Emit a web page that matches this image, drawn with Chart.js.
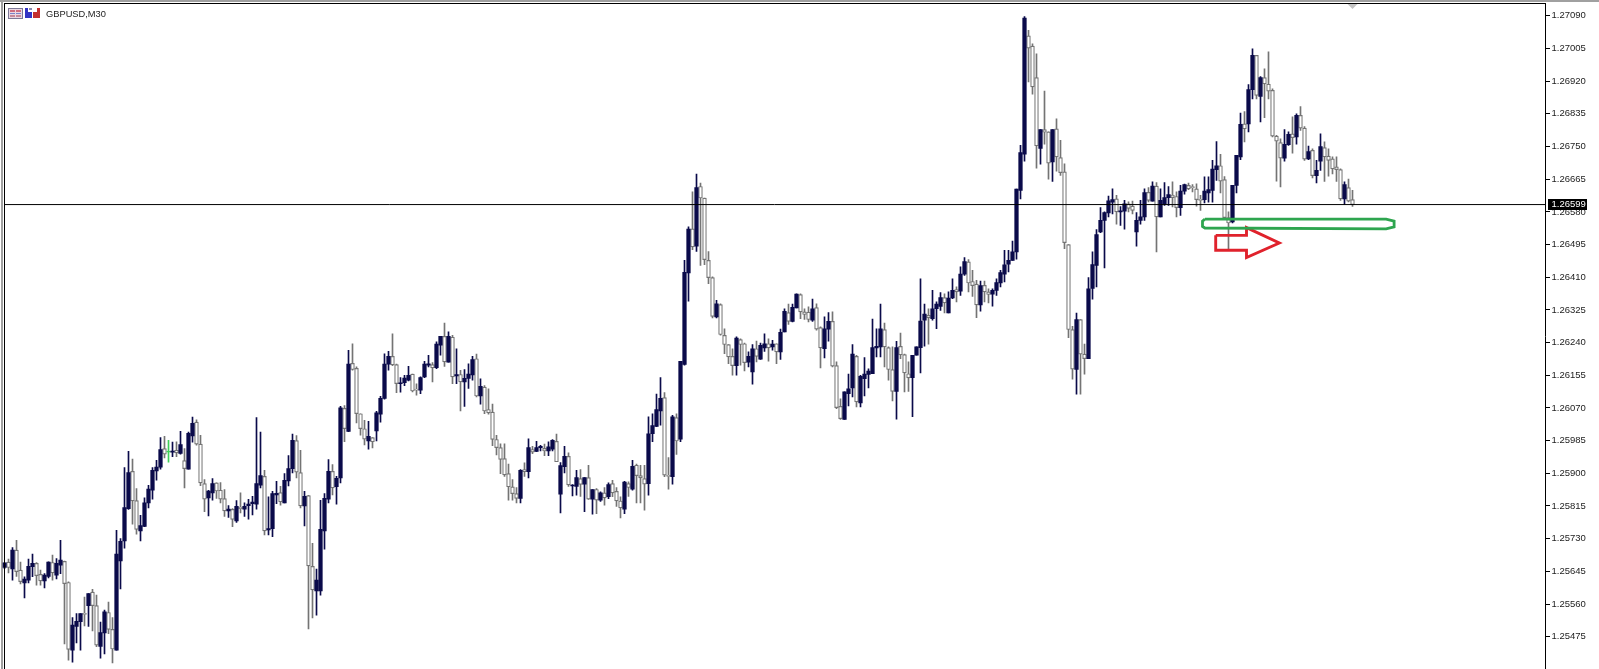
<!DOCTYPE html>
<html><head><meta charset="utf-8"><title>GBPUSD,M30</title>
<script src="https://cdn.jsdelivr.net/npm/chart.js@4"></script>
<style>html,body{margin:0;padding:0;background:#fff;overflow:hidden}canvas{display:block}</style>
</head><body><canvas id="c" width="1599" height="669"></canvas>
<script>
const symbolTitle = "GBPUSD,M30";
const tickValues = [1.27090,1.27005,1.26920,1.26835,1.26750,1.26665,1.26580,1.26495,1.26410,1.26325,1.26240,1.26155,1.26070,1.25985,1.25900,1.25815,1.25730,1.25645,1.25560,1.25475];
const bidPrice = 1.26599;
const dojiGreenIndex = 41;
const opens = [1.25655,1.25669,1.25651,1.25700,1.25648,1.25615,1.25622,1.25657,1.25666,1.25637,
1.25620,1.25632,1.25668,1.25635,1.25661,1.25671,1.25616,1.25440,1.25502,1.25514,
1.25535,1.25556,1.25591,1.25556,1.25450,1.25485,1.25538,1.25494,1.25440,1.25672,
1.25724,1.25808,1.25905,1.25829,1.25750,1.25762,1.25823,1.25856,1.25906,1.25916,
1.25964,1.25955,1.25955,1.25960,1.25952,1.25933,1.25911,1.25997,1.26033,1.25976,
1.25873,1.25836,1.25849,1.25875,1.25856,1.25834,1.25802,1.25806,1.25776,1.25812,
1.25807,1.25816,1.25821,1.25820,1.25869,1.25892,1.25753,1.25756,1.25844,1.25850,
1.25823,1.25880,1.25912,1.25985,1.25902,1.25815,1.25842,1.25658,1.25594,1.25594,
1.25750,1.25833,1.25905,1.25865,1.25888,1.26069,1.26009,1.26186,1.26173,1.26055,
1.26016,1.25984,1.25993,1.26010,1.26054,1.26095,1.26184,1.26204,1.26183,1.26133,
1.26136,1.26142,1.26158,1.26119,1.26116,1.26151,1.26181,1.26183,1.26175,1.26233,
1.26256,1.26189,1.26254,1.26153,1.26157,1.26138,1.26147,1.26156,1.26198,1.26101,
1.26124,1.26066,1.26059,1.25988,1.25967,1.25938,1.25899,1.25865,1.25847,1.25835,
1.25910,1.25904,1.25962,1.25957,1.25967,1.25965,1.25958,1.25963,1.25983,1.25846,
1.25917,1.25944,1.25867,1.25866,1.25886,1.25872,1.25889,1.25833,1.25858,1.25830,
1.25849,1.25839,1.25873,1.25853,1.25828,1.25807,1.25873,1.25859,1.25921,1.25894,
1.25886,1.25873,1.26003,1.26022,1.26062,1.26097,1.25895,1.25891,1.26045,1.25989,
1.26183,1.26421,1.26536,1.26491,1.26646,1.26616,1.26454,1.26409,1.26307,1.26339,
1.26259,1.26235,1.26204,1.26180,1.26248,1.26237,1.26189,1.26164,1.26224,1.26197,
1.26226,1.26237,1.26229,1.26237,1.26216,1.26268,1.26318,1.26295,1.26330,1.26365,
1.26320,1.26319,1.26298,1.26331,1.26279,1.26224,1.26275,1.26295,1.26180,1.26074,
1.26040,1.26107,1.26122,1.26204,1.26083,1.26146,1.26157,1.26159,1.26226,1.26229,
1.26274,1.26227,1.26170,1.26113,1.26230,1.26209,1.26159,1.26149,1.26207,1.26227,
1.26298,1.26311,1.26302,1.26328,1.26334,1.26357,1.26317,1.26356,1.26378,1.26374,
1.26418,1.26450,1.26399,1.26392,1.26338,1.26389,1.26372,1.26366,1.26376,1.26395,
1.26418,1.26444,1.26454,1.26476,1.26636,1.26730,1.27038,1.27011,1.26929,1.26745,
1.26794,1.26788,1.26710,1.26796,1.26721,1.26684,1.26495,1.26274,1.26170,1.26300,
1.26210,1.26198,1.26381,1.26441,1.26528,1.26558,1.26577,1.26605,1.26614,1.26580,
1.26582,1.26601,1.26595,1.26528,1.26558,1.26567,1.26631,1.26608,1.26647,1.26567,
1.26601,1.26617,1.26624,1.26620,1.26591,1.26634,1.26649,1.26645,1.26640,1.26612,
1.26612,1.26629,1.26636,1.26690,1.26700,1.26664,1.26565,1.26554,1.26649,1.26723,
1.26809,1.26809,1.26898,1.26987,1.26880,1.26929,1.26912,1.26896,1.26777,1.26760,
1.26720,1.26755,1.26783,1.26775,1.26831,1.26798,1.26718,1.26740,1.26674,1.26712,
1.26747,1.26725,1.26718,1.26697,1.26690,1.26614,1.26643,1.26612];
const highs = [1.25667,1.25677,1.25707,1.25726,1.25669,1.25631,1.25677,1.25690,1.25668,1.25648,
1.25639,1.25670,1.25687,1.25678,1.25726,1.25672,1.25618,1.25525,1.25535,1.25535,
1.25578,1.25587,1.25598,1.25583,1.25513,1.25544,1.25565,1.25525,1.25752,1.25730,
1.25915,1.25957,1.25937,1.25860,1.25791,1.25836,1.25869,1.25915,1.25934,1.25993,
1.25996,1.25986,1.25981,1.25982,1.26009,1.25964,1.26007,1.26046,1.26039,1.25999,
1.25884,1.25856,1.25886,1.25875,1.25876,1.25858,1.25816,1.25808,1.25829,1.25849,
1.25823,1.25832,1.25840,1.26045,1.26007,1.25908,1.25839,1.25853,1.25879,1.25866,
1.25899,1.25946,1.26002,1.25998,1.25960,1.25853,1.25843,1.25718,1.25651,1.25830,
1.25847,1.25936,1.25923,1.25892,1.26074,1.26076,1.26220,1.26237,1.26177,1.26055,
1.26038,1.26035,1.25993,1.26061,1.26100,1.26211,1.26217,1.26263,1.26184,1.26149,
1.26155,1.26178,1.26158,1.26133,1.26151,1.26191,1.26207,1.26188,1.26242,1.26256,
1.26291,1.26268,1.26259,1.26224,1.26168,1.26170,1.26185,1.26204,1.26210,1.26146,
1.26128,1.26120,1.26080,1.25999,1.25977,1.25977,1.25924,1.25884,1.25863,1.25910,
1.25927,1.25990,1.25970,1.25983,1.25973,1.25976,1.25982,1.25988,1.26002,1.25928,
1.25970,1.25953,1.25871,1.25908,1.25910,1.25889,1.25921,1.25858,1.25860,1.25852,
1.25863,1.25875,1.25882,1.25863,1.25839,1.25879,1.25878,1.25934,1.25924,1.25921,
1.25921,1.26047,1.26055,1.26106,1.26149,1.26110,1.25941,1.26051,1.26055,1.26191,
1.26454,1.26541,1.26632,1.26678,1.26655,1.26616,1.26477,1.26411,1.26350,1.26341,
1.26276,1.26235,1.26224,1.26255,1.26250,1.26239,1.26216,1.26235,1.26244,1.26239,
1.26263,1.26250,1.26246,1.26237,1.26275,1.26328,1.26340,1.26340,1.26367,1.26367,
1.26328,1.26333,1.26353,1.26341,1.26281,1.26307,1.26318,1.26320,1.26190,1.26094,
1.26112,1.26158,1.26235,1.26207,1.26155,1.26201,1.26172,1.26301,1.26276,1.26340,
1.26291,1.26229,1.26229,1.26243,1.26265,1.26210,1.26190,1.26207,1.26229,1.26406,
1.26340,1.26328,1.26376,1.26346,1.26370,1.26367,1.26372,1.26406,1.26385,1.26437,
1.26461,1.26456,1.26428,1.26402,1.26400,1.26400,1.26380,1.26380,1.26406,1.26428,
1.26480,1.26480,1.26504,1.26639,1.26753,1.27088,1.27052,1.27017,1.26991,1.26794,
1.26894,1.26788,1.26794,1.26822,1.26766,1.26705,1.26495,1.26282,1.26317,1.26300,
1.26236,1.26409,1.26476,1.26534,1.26591,1.26580,1.26621,1.26640,1.26623,1.26594,
1.26610,1.26606,1.26608,1.26578,1.26610,1.26640,1.26643,1.26658,1.26656,1.26640,
1.26656,1.26646,1.26658,1.26632,1.26649,1.26652,1.26655,1.26651,1.26653,1.26623,
1.26671,1.26671,1.26714,1.26763,1.26730,1.26672,1.26580,1.26649,1.26727,1.26837,
1.26841,1.26911,1.27004,1.26987,1.26932,1.26952,1.26996,1.26900,1.26779,1.26770,
1.26794,1.26788,1.26827,1.26835,1.26854,1.26802,1.26751,1.26744,1.26714,1.26783,
1.26762,1.26744,1.26723,1.26723,1.26692,1.26658,1.26665,1.26636];
const lows = [1.25652,1.25641,1.25622,1.25632,1.25612,1.25576,1.25615,1.25631,1.25609,1.25609,
1.25602,1.25628,1.25622,1.25625,1.25639,1.25456,1.25414,1.25409,1.25459,1.25440,
1.25503,1.25502,1.25490,1.25449,1.25419,1.25430,1.25483,1.25407,1.25440,1.25599,
1.25705,1.25806,1.25768,1.25742,1.25724,1.25761,1.25810,1.25833,1.25882,1.25911,
1.25940,1.25929,1.25943,1.25943,1.25950,1.25862,1.25911,1.25981,1.25973,1.25868,
1.25800,1.25789,1.25830,1.25835,1.25823,1.25788,1.25785,1.25761,1.25772,1.25797,
1.25788,1.25781,1.25792,1.25807,1.25862,1.25740,1.25740,1.25735,1.25821,1.25817,
1.25823,1.25867,1.25901,1.25888,1.25810,1.25763,1.25495,1.25524,1.25531,1.25583,
1.25703,1.25823,1.25844,1.25820,1.25875,1.25982,1.26008,1.26168,1.26031,1.25999,
1.25974,1.25963,1.25966,1.25984,1.26033,1.26093,1.26168,1.26180,1.26110,1.26111,
1.26128,1.26140,1.26112,1.26103,1.26107,1.26149,1.26177,1.26138,1.26172,1.26207,
1.26178,1.26189,1.26133,1.26133,1.26062,1.26074,1.26121,1.26142,1.26099,1.26080,
1.26055,1.26054,1.25972,1.25948,1.25899,1.25892,1.25830,1.25830,1.25823,1.25823,
1.25892,1.25888,1.25951,1.25956,1.25958,1.25946,1.25946,1.25958,1.25930,1.25797,
1.25901,1.25866,1.25841,1.25843,1.25840,1.25800,1.25832,1.25794,1.25795,1.25827,
1.25817,1.25834,1.25839,1.25814,1.25784,1.25795,1.25840,1.25856,1.25823,1.25823,
1.25804,1.25843,1.25982,1.26021,1.26025,1.25891,1.25859,1.25872,1.25949,1.25982,
1.26181,1.26348,1.26482,1.26477,1.26441,1.26443,1.26393,1.26304,1.26304,1.26259,
1.26211,1.26185,1.26155,1.26155,1.26181,1.26166,1.26177,1.26132,1.26190,1.26196,
1.26217,1.26192,1.26220,1.26185,1.26196,1.26268,1.26287,1.26294,1.26330,1.26302,
1.26300,1.26294,1.26295,1.26272,1.26174,1.26200,1.26244,1.26177,1.26068,1.26040,
1.26040,1.26075,1.26099,1.26073,1.26073,1.26101,1.26122,1.26159,1.26203,1.26203,
1.26177,1.26142,1.26088,1.26041,1.26198,1.26112,1.26113,1.26047,1.26207,1.26161,
1.26231,1.26236,1.26298,1.26276,1.26324,1.26317,1.26317,1.26354,1.26346,1.26363,
1.26415,1.26372,1.26360,1.26305,1.26322,1.26346,1.26343,1.26335,1.26363,1.26385,
1.26398,1.26424,1.26454,1.26457,1.26614,1.26712,1.26918,1.26886,1.26694,1.26704,
1.26756,1.26665,1.26659,1.26686,1.26675,1.26484,1.26253,1.26145,1.26106,1.26106,
1.26158,1.26198,1.26353,1.26385,1.26526,1.26434,1.26567,1.26575,1.26548,1.26545,
1.26535,1.26580,1.26575,1.26491,1.26548,1.26558,1.26606,1.26608,1.26476,1.26567,
1.26597,1.26597,1.26593,1.26567,1.26571,1.26626,1.26638,1.26632,1.26595,1.26584,
1.26603,1.26605,1.26605,1.26662,1.26629,1.26562,1.26480,1.26551,1.26629,1.26716,
1.26762,1.26788,1.26874,1.26874,1.26814,1.26825,1.26874,1.26775,1.26660,1.26645,
1.26712,1.26753,1.26733,1.26756,1.26792,1.26714,1.26716,1.26668,1.26655,1.26688,
1.26659,1.26673,1.26679,1.26659,1.26610,1.26599,1.26606,1.26594];
const closes = [1.25667,1.25655,1.25700,1.25644,1.25618,1.25625,1.25658,1.25666,1.25634,1.25620,
1.25635,1.25669,1.25641,1.25666,1.25674,1.25613,1.25442,1.25505,1.25515,1.25535,
1.25533,1.25587,1.25556,1.25453,1.25486,1.25540,1.25494,1.25443,1.25690,1.25723,
1.25811,1.25902,1.25828,1.25754,1.25764,1.25823,1.25859,1.25908,1.25916,1.25962,
1.25950,1.25955,1.25957,1.25953,1.25975,1.25912,1.26004,1.26030,1.25976,1.25875,
1.25833,1.25854,1.25873,1.25854,1.25833,1.25802,1.25807,1.25780,1.25814,1.25808,
1.25814,1.25820,1.25825,1.25873,1.25894,1.25750,1.25756,1.25847,1.25848,1.25826,
1.25882,1.25912,1.25986,1.25903,1.25815,1.25840,1.25659,1.25597,1.25622,1.25754,
1.25835,1.25905,1.25862,1.25887,1.26070,1.26016,1.26184,1.26170,1.26055,1.26016,
1.25989,1.25996,1.25982,1.26057,1.26095,1.26184,1.26204,1.26182,1.26133,1.26135,
1.26148,1.26155,1.26114,1.26116,1.26149,1.26184,1.26185,1.26174,1.26236,1.26256,
1.26190,1.26256,1.26151,1.26157,1.26138,1.26147,1.26158,1.26196,1.26101,1.26126,
1.26062,1.26057,1.25988,1.25967,1.25936,1.25896,1.25865,1.25847,1.25835,1.25908,
1.25904,1.25967,1.25955,1.25967,1.25970,1.25958,1.25969,1.25986,1.25930,1.25920,
1.25944,1.25870,1.25869,1.25889,1.25871,1.25889,1.25833,1.25858,1.25830,1.25849,
1.25836,1.25871,1.25849,1.25828,1.25810,1.25877,1.25863,1.25918,1.25894,1.25888,
1.25872,1.26003,1.26024,1.26066,1.26095,1.25895,1.25892,1.26047,1.25984,1.26191,
1.26423,1.26535,1.26489,1.26643,1.26616,1.26456,1.26409,1.26308,1.26341,1.26261,
1.26235,1.26203,1.26180,1.26252,1.26235,1.26188,1.26204,1.26224,1.26204,1.26233,
1.26237,1.26226,1.26236,1.26216,1.26267,1.26321,1.26295,1.26332,1.26366,1.26320,
1.26313,1.26300,1.26328,1.26275,1.26226,1.26276,1.26295,1.26179,1.26071,1.26042,
1.26112,1.26120,1.26210,1.26086,1.26152,1.26158,1.26166,1.26227,1.26230,1.26276,
1.26229,1.26170,1.26113,1.26227,1.26208,1.26161,1.26148,1.26207,1.26229,1.26296,
1.26314,1.26304,1.26328,1.26340,1.26357,1.26343,1.26356,1.26376,1.26372,1.26418,
1.26451,1.26395,1.26388,1.26338,1.26388,1.26372,1.26365,1.26376,1.26396,1.26422,
1.26442,1.26454,1.26476,1.26639,1.26734,1.27084,1.27006,1.26905,1.26752,1.26794,
1.26787,1.26707,1.26794,1.26723,1.26682,1.26500,1.26274,1.26171,1.26300,1.26210,
1.26198,1.26380,1.26443,1.26521,1.26558,1.26578,1.26609,1.26612,1.26580,1.26582,
1.26601,1.26589,1.26584,1.26558,1.26567,1.26630,1.26610,1.26647,1.26567,1.26610,
1.26617,1.26625,1.26617,1.26591,1.26634,1.26651,1.26640,1.26643,1.26612,1.26610,
1.26634,1.26638,1.26691,1.26700,1.26660,1.26565,1.26551,1.26649,1.26727,1.26808,
1.26796,1.26898,1.26987,1.26883,1.26929,1.26913,1.26894,1.26777,1.26764,1.26720,
1.26756,1.26782,1.26773,1.26831,1.26798,1.26717,1.26737,1.26674,1.26688,1.26750,
1.26723,1.26714,1.26692,1.26690,1.26614,1.26651,1.26608,1.26599];

const green = "#2ea54f", red = "#e0222c";
// hand-drawn marks on the chart, in bar number / price
const greenBoxBars   = [300.1,345.4,347.4,347.4,345.4,300.1,299.5,299.5,300.1];
const greenBoxPrices = [1.26561,1.26561,1.26556,1.26541,1.26536,1.26538,1.26542,1.26556,1.26561];
const redArrowBars   = [302.8,310.5,310.5,318.7,310.5,310.5,302.8,302.8];
const redArrowPrices = [1.26519,1.26519,1.26539,1.26499,1.26461,1.26480,1.26480,1.26519];

const BULL = "#0a0a4a", BEAR = "#747474", DOJI = "#3fcf5a";
const AXIS_X = 1545, LEFT = 2.5, BAR_STEP = 4;
const xMin = -0.5, xMax = xMin + (AXIS_X - LEFT) / BAR_STEP;
const yTopPrice = 1.27122, yBottomPrice = 1.25391;
const barIdx = opens.map((_, i) => i);
const isDoji = i => i === dojiGreenIndex;
const bullIdx = barIdx.filter(i => closes[i] >= opens[i] && !isDoji(i));
const bearIdx = barIdx.filter(i => closes[i] < opens[i] || isDoji(i));
const candleColor = i => isDoji(i) ? DOJI : (closes[i] >= opens[i] ? BULL : BEAR);
const pts = (xs, ys) => xs.map((x, i) => ({x, y: ys[i]}));
const bodies = idx => idx.map(i => ({x:i, y:[opens[i], closes[i]]}));

const decor = {
  id: 'decor',
  beforeDraw(ch) {
    const c = ch.ctx; c.save();
    c.fillStyle = '#fff'; c.fillRect(0, 0, ch.width, ch.height);
    c.fillStyle = '#a0a0a0'; c.fillRect(0, 0, ch.width, 2); c.fillRect(1, 0, 2, ch.height);
    c.restore();
  },
  afterDraw(ch) {
    const c = ch.ctx, y = ch.scales.y; c.save();
    // frame
    c.fillStyle = '#000';
    c.fillRect(4, 3, AXIS_X - 4, 1); c.fillRect(4, 3, 1, ch.height - 3);
    // shift marker
    c.fillStyle = '#c4c4c4'; c.beginPath(); c.moveTo(1347.5, 4); c.lineTo(1357.5, 4); c.lineTo(1352.5, 9); c.closePath(); c.fill();
    // icons
    c.fillStyle = '#ead8e4'; c.fillRect(8, 8, 15, 11);
    c.strokeStyle = '#7c7896'; c.lineWidth = 1; c.strokeRect(8.5, 8.5, 14, 10);
    c.fillStyle = '#cf6e80'; c.fillRect(10, 10, 5, 2); c.fillRect(16, 10, 5, 2);
    c.fillStyle = '#7a84c8'; c.fillRect(10, 13, 5, 1); c.fillRect(16, 13, 5, 1);
    c.fillStyle = '#c88a9a'; c.fillRect(10, 15, 5, 2); c.fillRect(16, 15, 5, 2);
    c.fillStyle = '#3434c4'; c.fillRect(25, 12, 7, 6); c.fillRect(25, 8, 3, 4);
    c.fillStyle = '#8a8ab0'; c.fillRect(29, 8, 3, 2);
    c.fillStyle = '#c43030'; c.fillRect(33, 12, 7, 6); c.fillRect(37, 8, 3, 4);
    // title
    c.fillStyle = '#1c1c1c'; c.font = '9.3px "Liberation Sans"'; c.textBaseline = 'alphabetic'; c.textAlign = 'left';
    c.fillText(symbolTitle, 46, 17);
    // current price flag
    const py = Math.floor(y.getPixelForValue(bidPrice));
    c.font = '9.5px "Liberation Sans"';
    c.fillStyle = '#000'; c.fillRect(1548, py - 5, 39, 11);
    c.fillStyle = '#fff'; c.textBaseline = 'middle'; c.fillText(bidPrice.toFixed(5), 1551.5, py + 0.8);
    c.restore();
  }
};

new Chart(document.getElementById('c'), {
  data: {
    datasets: [
      {type:'line', order:0, data:[{x:-0.125,y:bidPrice},{x:xMax,y:bidPrice}], borderColor:'#000', borderWidth:1, pointRadius:0},
      {type:'line', order:0, data:pts(greenBoxBars,greenBoxPrices), borderColor:green, borderWidth:2.8, pointRadius:0, tension:0},
      {type:'line', order:0, data:pts(redArrowBars,redArrowPrices), borderColor:red, borderWidth:2.9, pointRadius:0, tension:0},
      {type:'bar', order:1, grouped:false, barThickness:3.6, minBarLength:1,
       data:bodies(bullIdx), backgroundColor:BULL, borderWidth:0},
      {type:'bar', order:1, grouped:false, barThickness:3.8, minBarLength:1, borderSkipped:false,
       data:bodies(bearIdx),
       backgroundColor:bearIdx.map(i => isDoji(i) ? DOJI : '#fff'),
       borderColor:bearIdx.map(candleColor), borderWidth:1.2},
      {type:'bar', order:2, grouped:false, barThickness:1,
       data:barIdx.map(i => ({x:i, y:[lows[i], highs[i]]})),
       backgroundColor:barIdx.map(candleColor), borderWidth:0}
    ]
  },
  options: {
    responsive:false, animation:false, devicePixelRatio:1,
    layout:{padding:{left:LEFT, top:3.5, right:0, bottom:0}},
    plugins:{legend:{display:false}, tooltip:{enabled:false}, title:{display:false}},
    scales:{
      x:{type:'linear', display:false, min:xMin, max:xMax, offset:false, grid:{display:false}},
      y:{type:'linear', position:'right', min:yBottomPrice, max:yTopPrice,
        afterFit(s){ s.width = 1599 - AXIS_X; s.paddingTop = 0; s.paddingBottom = 0; },
        afterBuildTicks(s){ s.ticks = tickValues.map(value => ({value})); },
        border:{display:true, color:'#000', width:1},
        grid:{drawOnChartArea:false, drawTicks:true, tickLength:5, tickColor:'#000', color:'#000'},
        ticks:{autoSkip:false, padding:1.5, color:'#1c1c1c', font:{family:'"Liberation Sans"', size:9.5}, callback:v => Number(v).toFixed(5)}
      }
    }
  },
  plugins:[decor]
});
</script></body></html>
